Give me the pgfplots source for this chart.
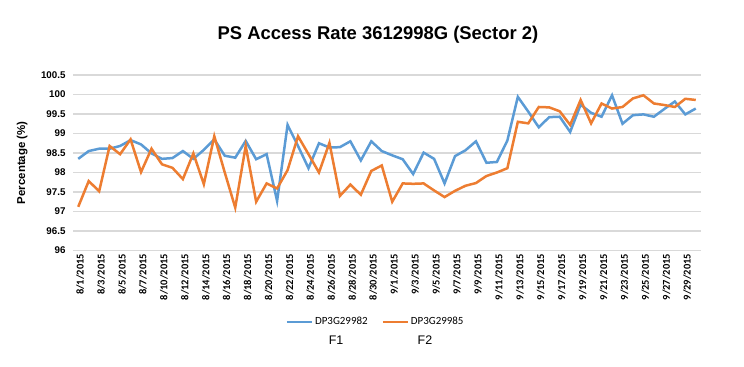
\documentclass[border=0pt]{standalone}
\usepackage{pgfplots}
\pgfplotsset{compat=1.18}
\usepackage{fontspec}
\setmainfont{Liberation Sans}
\newfontfamily\calib{Carlito}
\definecolor{xblue}{HTML}{5B9BD5}
\definecolor{xorange}{HTML}{ED7D31}
\definecolor{xgrid}{HTML}{D9D9D9}
\pgfplotstableread{
i v
0 98.35
1 98.55
2 98.61
3 98.61
4 98.68
5 98.83
6 98.72
7 98.49
8 98.35
9 98.37
10 98.55
11 98.35
12 98.58
13 98.85
14 98.43
15 98.38
16 98.81
17 98.34
18 98.47
19 97.27
20 99.22
21 98.68
22 98.11
23 98.75
24 98.64
25 98.65
26 98.80
27 98.31
28 98.80
29 98.55
30 98.44
31 98.34
32 97.96
33 98.51
34 98.35
35 97.72
36 98.42
37 98.57
38 98.80
39 98.25
40 98.27
41 98.82
42 99.94
43 99.56
44 99.16
45 99.42
46 99.43
47 99.04
48 99.74
49 99.53
50 99.43
51 99.98
52 99.25
53 99.47
54 99.49
55 99.43
56 99.63
57 99.82
58 99.49
59 99.64
}\blue
\pgfplotstableread{
i v
0 97.12
1 97.78
2 97.52
3 98.68
4 98.47
5 98.85
6 98.01
7 98.61
8 98.21
9 98.12
10 97.83
11 98.49
12 97.70
13 98.93
14 98.00
15 97.10
16 98.68
17 97.25
18 97.72
19 97.59
20 98.06
21 98.93
22 98.47
23 98.00
24 98.76
25 97.40
26 97.69
27 97.43
28 98.04
29 98.18
30 97.25
31 97.72
32 97.71
33 97.72
34 97.54
35 97.37
36 97.53
37 97.66
38 97.73
39 97.91
40 98.00
41 98.11
42 99.30
43 99.26
44 99.68
45 99.67
46 99.57
47 99.22
48 99.86
49 99.26
50 99.77
51 99.64
52 99.68
53 99.90
54 99.98
55 99.77
56 99.73
57 99.68
58 99.89
59 99.86
}\orange
\begin{document}
\begin{tikzpicture}
\path (0bp,0bp) rectangle (744bp,367bp);
\node[font=\bfseries\fontsize{18.5}{22}\selectfont] at (378bp,332bp) {PS Access Rate 3612998G (Sector 2)};
\begin{axis}[
  at={(73bp,116.5bp)}, anchor=south west,
  width=628bp, height=175.5bp, scale only axis,
  clip mode=individual,
  xmin=-0.5, xmax=59.5, ymin=96, ymax=100.5,
  ytick={96,96.5,...,100.5},
  xtick={0,2,...,58},
  xticklabels={8/1/2015,8/3/2015,8/5/2015,8/7/2015,8/10/2015,8/12/2015,8/14/2015,8/16/2015,8/18/2015,8/20/2015,8/22/2015,8/24/2015,8/26/2015,8/28/2015,8/30/2015,9/1/2015,9/3/2015,9/5/2015,9/7/2015,9/9/2015,9/11/2015,9/13/2015,9/15/2015,9/17/2015,9/19/2015,9/21/2015,9/23/2015,9/25/2015,9/27/2015,9/29/2015},
  xticklabel style={rotate=90, anchor=east, yshift=-2bp, font=\calib\bfseries\fontsize{10.5}{11}\selectfont},
  yticklabel style={xshift=-4bp, font=\bfseries\fontsize{9.8}{11}\selectfont},
  /pgf/number format/assume math mode=true,
  major tick length=0pt,
  axis line style={draw=none},
  ymajorgrids, major grid style={xgrid, line width=1.2bp},
  ylabel={Percentage (\%)},
  ylabel style={at={(axis description cs:-0.081,0.5)}, anchor=center, font=\bfseries\fontsize{11.5}{13}\selectfont},
  legend style={at={(0.482,-0.407)}, anchor=center, legend columns=2, draw=none, fill=none,
    font=\calib\fontsize{11}{12}\selectfont,
    /tikz/every even column/.append style={column sep=12bp}},
  legend image code/.code={\draw[#1, line width=2.2bp] (0bp,0bp) -- (25bp,0bp);},
]
\addplot[xblue, line width=2.5bp] table[x=i,y=v] {\blue};
\addlegendentry{DP3G29982}
\addplot[xorange, line width=2.5bp] table[x=i,y=v] {\orange};
\addlegendentry{DP3G29985}
\node[font=\fontsize{12.5}{14}\selectfont] at (rel axis cs:0.419,-0.51) {F1};
\node[font=\fontsize{12.5}{14}\selectfont] at (rel axis cs:0.5605,-0.51) {F2};
\end{axis}
\end{tikzpicture}
\end{document}
